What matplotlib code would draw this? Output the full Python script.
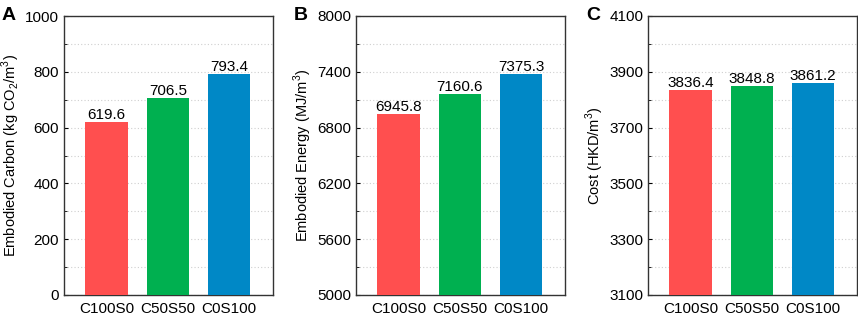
import matplotlib
matplotlib.use("Agg")
import matplotlib.pyplot as plt
import numpy as np

plt.rcParams["font.family"] = ["Liberation Sans", "DejaVu Sans"]
plt.rcParams["mathtext.fontset"] = "custom"
plt.rcParams["mathtext.rm"] = "Liberation Sans"

mixes = ["C100S0", "C50S50", "C0S100"]
carbon = [619.6, 706.5, 793.4]
energy = [6945.8, 7160.6, 7375.3]
cost = [3836.4, 3848.8, 3861.2]
colors = ["#FF4F4F", "#00B050", "#0088C6"]

panels = [
  ("A", carbon, "Embodied Carbon (kg CO$_2$/m$^3$)", (0, 1000), 200),
  ("B", energy, "Embodied Energy (MJ/m$^3$)", (5000, 8000), 600),
  ("C", cost, "Cost (HKD/m$^3$)", (3100, 4100), 200),
]

fig = plt.figure(figsize=(8.58, 3.17), dpi=100)
lefts = [64, 356, 648]
for (letter, vals, ylab, ylim, major), left in zip(panels, lefts):
  ax = fig.add_axes([left/858, 1 - 295/317, 209/858, (295-16)/317])
  x = range(len(mixes))
  ax.bar(x, vals, width=0.7, color=colors, zorder=3)
  for xi, v in zip(x, vals):
    ax.text(xi, v, f"{v:.1f}", ha="center", va="bottom", fontsize=11)
  ax.set_xlim(-0.7, 2.72)
  ax.set_ylim(*ylim)
  ax.set_yticks(np.arange(ylim[0], ylim[1] + 1, major))
  ax.set_yticks(np.arange(ylim[0], ylim[1] + 1, major / 2), minor=True)
  ax.grid(axis="y", which="both", linestyle=(0, (1, 2)), color="#cfcfcf", linewidth=0.8, zorder=0)
  ax.set_xticks(list(x))
  ax.set_xticklabels(mixes, fontsize=11)
  ax.tick_params(axis="y", which="major", direction="in", length=3, labelsize=11)
  ax.tick_params(axis="y", which="minor", direction="in", length=2)
  ax.tick_params(axis="x", length=0, pad=5)
  ax.set_ylabel(ylab, fontsize=10.5, labelpad=2)
  for s in ax.spines.values():
    s.set_color("#333333")
    s.set_linewidth(1.0)
  ax.text(left/858 - 62/858, 1 - 16/317, letter, transform=fig.transFigure,
          fontsize=14, fontweight="bold", ha="left", va="center")

fig.savefig("out.png", dpi=100)
